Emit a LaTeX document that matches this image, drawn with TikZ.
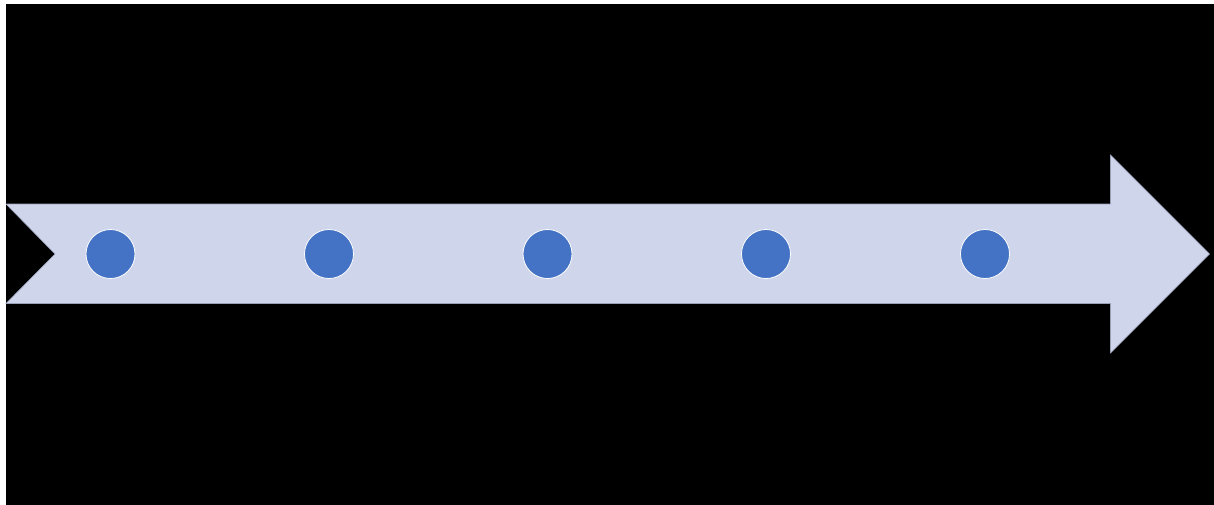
\documentclass[tikz,border=0pt]{standalone}
\definecolor{arrowfill}{HTML}{CFD5EA}
\definecolor{arrowline}{HTML}{9AA0B8}
\definecolor{dotfill}{HTML}{4472C4}
\tikzset{
  dot/.style={circle, fill=dotfill, draw=white, line width=0.8pt, minimum size=49pt, inner sep=0pt},
  bigarrow/.style={fill=arrowfill, draw=arrowline, line width=0.6pt, line join=miter}
}
\begin{document}
\begin{tikzpicture}[x=1pt,y=-1pt]
\useasboundingbox (0,0) rectangle (1214,504);
\fill[white] (0,0) rectangle (1214,504);
\fill[black] (6,4) rectangle (1220,510);
\draw[bigarrow] (6,204) -- (1110.5,204) -- (1110.5,155) -- (1209.5,254) -- (1110.5,353) -- (1110.5,303.5) -- (6,303.5) -- (55,254) -- cycle;
\node[dot] (d1) at (110.5,254) {};
\node[dot] (d2) at (329,254) {};
\node[dot] (d3) at (547.5,254) {};
\node[dot] (d4) at (766,254) {};
\node[dot] (d5) at (985,254) {};
\end{tikzpicture}
\end{document}
